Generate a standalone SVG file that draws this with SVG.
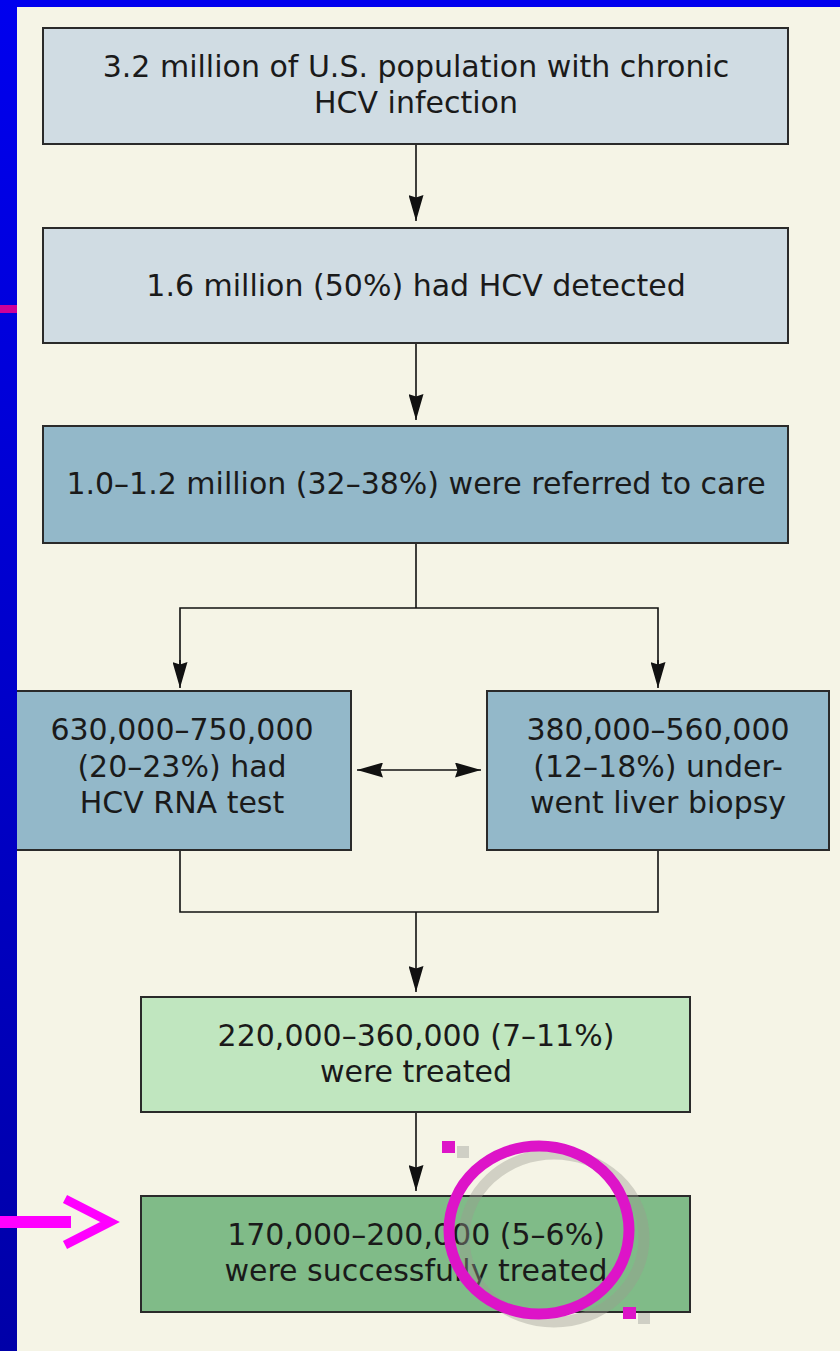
<svg xmlns="http://www.w3.org/2000/svg" width="840" height="1351" viewBox="0 0 840 1351">
<defs>
<linearGradient id="blue" x1="0" y1="0" x2="0" y2="1"><stop offset="0" stop-color="#0000ee"/><stop offset="1" stop-color="#0000a8"/></linearGradient>
<marker id="ah2" viewBox="0 0 10 10" refX="10" refY="5" markerWidth="26" markerHeight="15" markerUnits="userSpaceOnUse" orient="auto-start-reverse" preserveAspectRatio="none"><path d="M0,0 L10,5 L0,10 L1,5 z" fill="#111"/></marker>
<style>
.box{stroke:#2a2a2a;stroke-width:2}
.t{font-family:"DejaVu Sans","Open Sans",sans-serif;font-size:30px;fill:#1a1a1a;text-anchor:middle}
.c{fill:none;stroke:#111;stroke-width:1.6}
</style>
</defs>
<rect x="0" y="0" width="840" height="1351" fill="url(#blue)"/>
<rect x="17" y="7" width="823" height="1344" fill="#f5f4e6"/>

<g id="connectors">
<line class="c" x1="416" y1="144" x2="416" y2="221" marker-end="url(#ah2)"/>
<line class="c" x1="416" y1="343" x2="416" y2="420" marker-end="url(#ah2)"/>
<polyline class="c" points="416,543 416,608"/>
<polyline class="c" points="180,683 180,608 658,608 658,683"/>
<line class="c" x1="180" y1="660" x2="180" y2="688" marker-end="url(#ah2)"/>
<line class="c" x1="658" y1="660" x2="658" y2="688" marker-end="url(#ah2)"/>
<line class="c" x1="357" y1="770" x2="481" y2="770" marker-start="url(#ah2)" marker-end="url(#ah2)"/>
<polyline class="c" points="180,850 180,912 658,912 658,850"/>
<line class="c" x1="416" y1="912" x2="416" y2="992" marker-end="url(#ah2)"/>
<line class="c" x1="416" y1="1112" x2="416" y2="1191" marker-end="url(#ah2)"/>
</g>

<g id="n1"><rect class="box" x="43" y="28" width="745" height="116" fill="#d0dce3"/>
<text class="t" x="416" y="77">3.2 million of U.S. population with chronic</text>
<text class="t" x="416" y="113">HCV infection</text></g>
<g id="n2"><rect class="box" x="43" y="228" width="745" height="115" fill="#d0dce3"/>
<text class="t" x="416" y="296">1.6 million (50%) had HCV detected</text></g>
<g id="n3"><rect class="box" x="43" y="426" width="745" height="117" fill="#93b8c9"/>
<text class="t" x="416" y="494">1.0–1.2 million (32–38%) were referred to care</text></g>
<g id="n4"><rect class="box" x="10" y="691" width="341" height="159" fill="#93b8c9"/>
<text class="t" x="182" y="740">630,000–750,000</text>
<text class="t" x="182" y="777">(20–23%) had</text>
<text class="t" x="182" y="813">HCV RNA test</text></g>
<g id="n5"><rect class="box" x="487" y="691" width="342" height="159" fill="#93b8c9"/>
<text class="t" x="658" y="740">380,000–560,000</text>
<text class="t" x="658" y="777">(12–18%) under-</text>
<text class="t" x="658" y="813">went liver biopsy</text></g>
<g id="n6"><rect class="box" x="141" y="997" width="549" height="115" fill="#c0e6bf"/>
<text class="t" x="416" y="1046">220,000–360,000 (7–11%)</text>
<text class="t" x="416" y="1082">were treated</text></g>
<g id="n7"><rect class="box" x="141" y="1196" width="549" height="116" fill="#80bb88"/>
<text class="t" x="416" y="1245">170,000–200,000 (5–6%)</text>
<text class="t" x="416" y="1281">were successfully treated</text></g>

<rect x="0" y="0" width="17" height="1351" fill="url(#blue)"/>
<rect x="0" y="305" width="17" height="8" fill="#cc0099"/>

<g id="highlight">
<ellipse cx="554" cy="1238" rx="90" ry="84" fill="none" stroke="#9a9a90" stroke-opacity="0.4" stroke-width="11"/>
<ellipse cx="539" cy="1230" rx="90" ry="84" fill="none" stroke="#dd14c8" stroke-width="11"/>
<rect x="457" y="1146" width="12" height="12" fill="#cfcfc5"/>
<rect x="442" y="1141" width="13" height="12" fill="#dd14c8"/>
<rect x="638" y="1313" width="12" height="11" fill="#cfcfc5"/>
<rect x="623" y="1307" width="13" height="12" fill="#dd14c8"/>
<line x1="0" y1="1222" x2="71" y2="1222" stroke="#ff00ff" stroke-width="12"/>
<polyline points="65,1199 110,1222 65,1245" fill="none" stroke="#ff00ff" stroke-width="9"/>
</g>
</svg>
